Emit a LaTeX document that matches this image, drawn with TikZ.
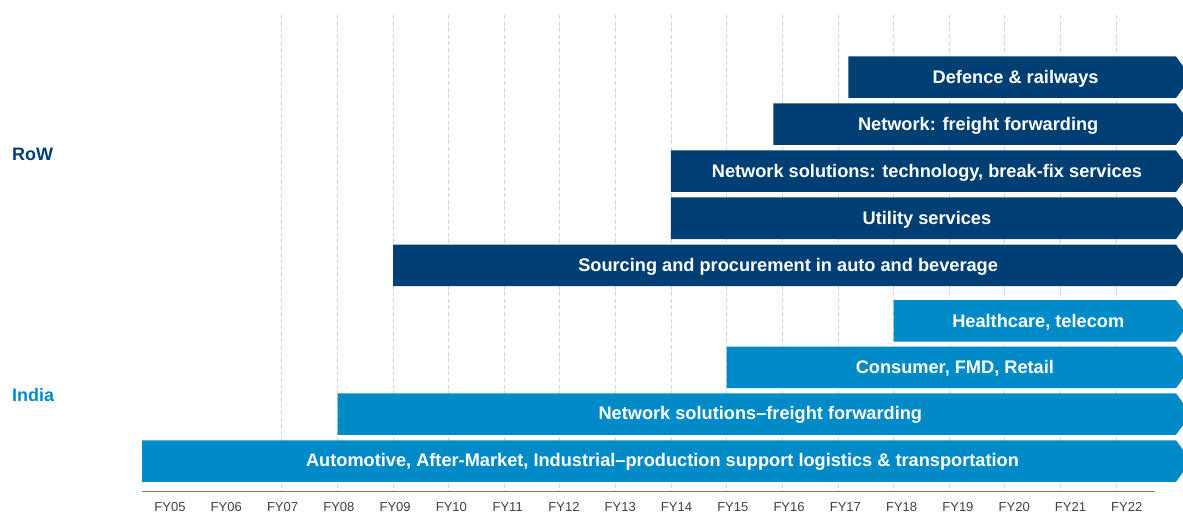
\documentclass[tikz,border=0pt]{standalone}
\usepackage{fontspec}
\setmainfont{Liberation Sans}
\definecolor{rowblue}{HTML}{003F74}
\definecolor{indblue}{HTML}{008BC8}
\definecolor{gridgray}{HTML}{D3D3D3}
\definecolor{axisgray}{HTML}{7A7A7A}
\definecolor{labgray}{HTML}{404040}
\newcommand\mybar[5]{%
  \pgfmathsetmacro\bx{#2}%
  \pgfmathsetmacro\bt{#3}%
  \pgfmathsetmacro\bb{#3+41.5}%
  \pgfmathsetmacro\bm{(#2+1183)/2}%
  \pgfmathsetmacro\bc{#3+22}%
  \fill[#4] (\bx,\bt) -- (1176,\bt) -- (1184,\bt+11) -- (1184,\bb-11) -- (1176,\bb) -- (\bx,\bb) -- cycle;
  \node[bartext] (#1) at (\bm,\bc) {#5};
}
\begin{document}
\begin{tikzpicture}[x=1pt,y=-1pt,
  bartext/.style={text=white,font=\bfseries\fontsize{18.2}{21}\selectfont,inner sep=0pt},
  gridline/.style={gridgray,line width=0.9pt,dash pattern=on 4pt off 2.6pt},
  fylab/.style={text=labgray,font=\fontsize{13}{15}\selectfont,inner sep=0pt},
  grouplab/.style={font=\bfseries\fontsize{18}{21}\selectfont,inner sep=0pt,anchor=west}]
\useasboundingbox (0,0) rectangle (1183,513);
% grid
\foreach \i in {0,...,15}
  \draw[gridline] ({281.7+55.63*\i},15) -- ({281.7+55.63*\i},491);
% axis
\coordinate (axl) at (142,491.5);
\coordinate (axr) at (1155,491.5);
\draw[axisgray,line width=1.2pt] (axl) -- (axr);
\foreach \i/\t in {0/05,1/06,2/07,3/08,4/09,5/10,6/11,7/12,8/13,9/14,10/15,11/16,12/17,13/18,14/19,15/20,16/21,17/22}
  \node[fylab] (fy\t) at ({170+56.28*\i},507) {FY\t};
% bars
\mybar{b1}{848.3}{56.5}{rowblue}{Defence \& railways}
\mybar{b2}{773.3}{103.5}{rowblue}{Network: freight forwarding}
\mybar{b3}{670.9}{150.5}{rowblue}{Network solutions: technology, break-fix services}
\mybar{b4}{670.9}{197.5}{rowblue}{Utility services}
\mybar{b5}{393.2}{244.7}{rowblue}{Sourcing and procurement in auto and beverage}
\mybar{b6}{893.5}{300}{indblue}{Healthcare, telecom}
\mybar{b7}{726.7}{346.7}{indblue}{Consumer, FMD, Retail}
\mybar{b8}{337.6}{393.3}{indblue}{Network solutions–freight forwarding}
\mybar{b9}{142}{440.3}{indblue}{Automotive, After-Market, Industrial–production support logistics \& transportation}
% group labels
\node[grouplab,text=rowblue] (row) at (12,154.5) {RoW};
\node[grouplab,text=indblue] (india) at (12,395.5) {India};
\end{tikzpicture}
\end{document}
